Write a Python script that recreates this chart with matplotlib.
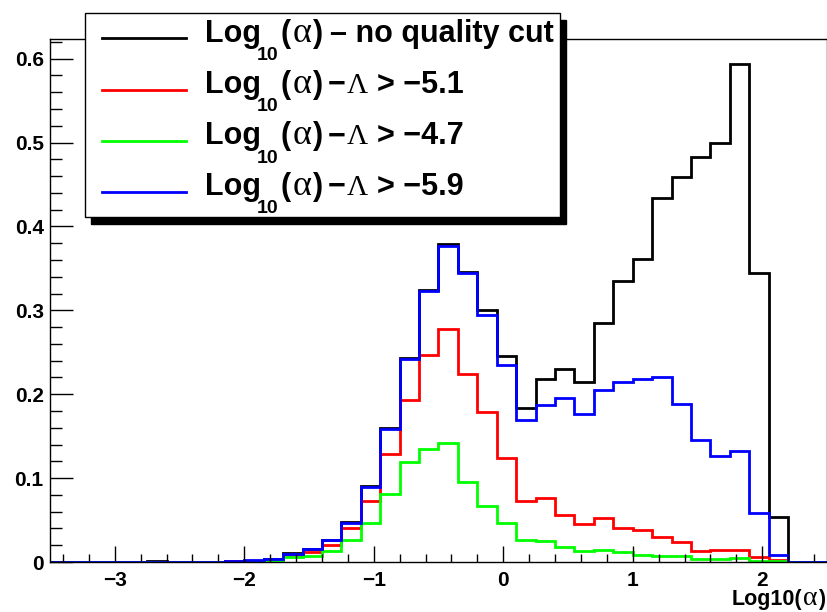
import numpy as np
import matplotlib
matplotlib.use("Agg")
import matplotlib.pyplot as plt
from matplotlib.font_manager import FontProperties
from matplotlib.lines import Line2D
from matplotlib.patches import Rectangle
from matplotlib.ticker import MultipleLocator, FuncFormatter

# 40 bins of width 0.15 between -3.5 and 2.5 in Log10(alpha)
bin_edges = np.round(np.linspace(-3.5, 2.5, 41), 3)

no_quality_cut = [0, 0, 0, 0, 0, 0.0008, 0, 0, 0, 0.001,
                  0.0015, 0.003, 0.0105, 0.0155, 0.026, 0.048, 0.091, 0.160, 0.243, 0.324,
                  0.379, 0.346, 0.300, 0.245, 0.184, 0.218, 0.230, 0.215, 0.285, 0.335,
                  0.361, 0.434, 0.459, 0.483, 0.500, 0.594, 0.345, 0.054, 0, 0]
cut_5p1 = [0, 0, 0, 0, 0, 0, 0, 0, 0, 0.0008,
           0.0015, 0.002, 0.008, 0.012, 0.020, 0.041, 0.073, 0.129, 0.193, 0.2467,
           0.2777, 0.224, 0.179, 0.124, 0.0725, 0.0759, 0.056, 0.0449, 0.052, 0.040,
           0.038, 0.0294, 0.0242, 0.0137, 0.0143, 0.0143, 0.006, 0.0024, 0, 0]
cut_4p7 = [0, 0, 0, 0, 0, 0, 0, 0, 0, 0.0004,
           0.001, 0.0015, 0.0065, 0.007, 0.013, 0.026, 0.046, 0.0805, 0.1195, 0.1347,
           0.1422, 0.0957, 0.0667, 0.0465, 0.0265, 0.0254, 0.0183, 0.0135, 0.0143, 0.0123,
           0.0083, 0.0075, 0.0071, 0.0032, 0.0032, 0.0044, 0.0016, 0.001, 0, 0]
cut_5p9 = [0, 0, 0, 0, 0, 0.0005, 0, 0, 0, 0.0012,
           0.0024, 0.003, 0.0098, 0.0151, 0.026, 0.047, 0.089, 0.158, 0.2416, 0.323,
           0.377, 0.344, 0.2944, 0.2348, 0.169, 0.187, 0.195, 0.177, 0.205, 0.2149,
           0.218, 0.2205, 0.188, 0.146, 0.126, 0.132, 0.059, 0.0083, 0, 0]

series = [no_quality_cut, cut_5p1, cut_4p7, cut_5p9]
colors = ["#000000", "#ff0000", "#00ff00", "#0000ff"]
thresholds = [None, "\u22125.1", "\u22124.7", "\u22125.9"]

W, H = 828, 612
fig = plt.figure(figsize=(W / 100, H / 100), dpi=100)
ax = fig.add_axes([50 / W, 1 - 562 / H, (827 - 50) / W, (562 - 39) / H])

for vals, c in zip(series, colors):
    ax.stairs(vals, bin_edges, color=c, lw=2.0)

ax.set_xlim(-3.5, 2.5)
ax.set_ylim(0, 0.6234)

ax.xaxis.set_major_locator(MultipleLocator(1))
ax.xaxis.set_minor_locator(MultipleLocator(0.2))
ax.yaxis.set_major_locator(MultipleLocator(0.1))
ax.yaxis.set_minor_locator(MultipleLocator(0.02))
ax.yaxis.set_major_formatter(FuncFormatter(lambda v, p: "0" if abs(v) < 1e-9 else f"{v:.1f}"))
ax.xaxis.set_major_formatter(FuncFormatter(lambda v, p: f"{v:.0f}".replace("-", "\u2212")))

ax.tick_params(which="both", direction="in", top=False, right=False, width=1.0, color="black")
ax.xaxis.set_tick_params(which="major", length=11.5, pad=6.5)
ax.xaxis.set_tick_params(which="minor", length=5.6)
ax.yaxis.set_tick_params(which="major", length=16.8, pad=4.5)
ax.yaxis.set_tick_params(which="minor", length=8.4)

tick_fp = FontProperties(family="Liberation Sans", weight="bold", size=15)
for lab in ax.get_xticklabels() + ax.get_yticklabels():
    lab.set_fontproperties(tick_fp)

for s in ax.spines.values():
    s.set_linewidth(1.0)

sans = FontProperties(family="Liberation Sans", weight="bold", size=22)
narrow = FontProperties(family=["Liberation Sans Narrow", "Liberation Sans"], weight="bold", size=22)
sub = FontProperties(family="Liberation Sans", weight="bold", size=14)
alpha_fp = FontProperties(family="Liberation Serif", size=26)
lambda_fp = FontProperties(family="Liberation Serif", size=21)


def put(x, base, text, fp, ha="left", zorder=30):
    return fig.text(x / W, 1 - base / H, text, fontproperties=fp,
                    ha=ha, va="baseline", zorder=zorder)


# legend box with solid drop shadow
lx0, ly0, lx1, ly1 = 85, 13, 560, 217
sh = 6.5
fig.add_artist(Rectangle(((lx0 + sh) / W, 1 - (ly1 + sh) / H), (lx1 - lx0) / W, (ly1 - ly0) / H,
                         transform=fig.transFigure, facecolor="black", edgecolor="black", zorder=20))
fig.add_artist(Rectangle((lx0 / W, 1 - ly1 / H), (lx1 - lx0) / W, (ly1 - ly0) / H,
                         transform=fig.transFigure, facecolor="white", edgecolor="black",
                         lw=1.0, zorder=21))

row_y = [38.3, 89.5, 140.8, 191.5]
for y, c, thr in zip(row_y, colors, thresholds):
    fig.add_artist(Line2D([102 / W, 186 / W], [1 - y / H] * 2, transform=fig.transFigure,
                          color=c, lw=2.0, zorder=25))
    base = y + 3.4
    put(205, base, "Log", narrow)
    put(257, base + 18.5, "10", sub)
    put(281, base, "(", sans)
    put(302, base, "\u03b1", alpha_fp, ha="center")
    put(313, base, ")", sans)
    if thr is None:
        put(330, base, "\u2013 no quality cut", sans)
    else:
        put(328, base, "\u2212", sans)
        put(347, base, "\u039b", lambda_fp)
        put(377, base, "> " + thr, sans)

# x-axis title at the right end
xl_sans = FontProperties(family="Liberation Sans", weight="bold", size=15.5)
xl_greek = FontProperties(family="Liberation Serif", size=20)
put(825, 605, ")", xl_sans, ha="right")
put(810, 605, "\u03b1", xl_greek, ha="center")
put(802, 605, "Log10(", xl_sans, ha="right")

fig.savefig("out.png", dpi=100, facecolor="white")
